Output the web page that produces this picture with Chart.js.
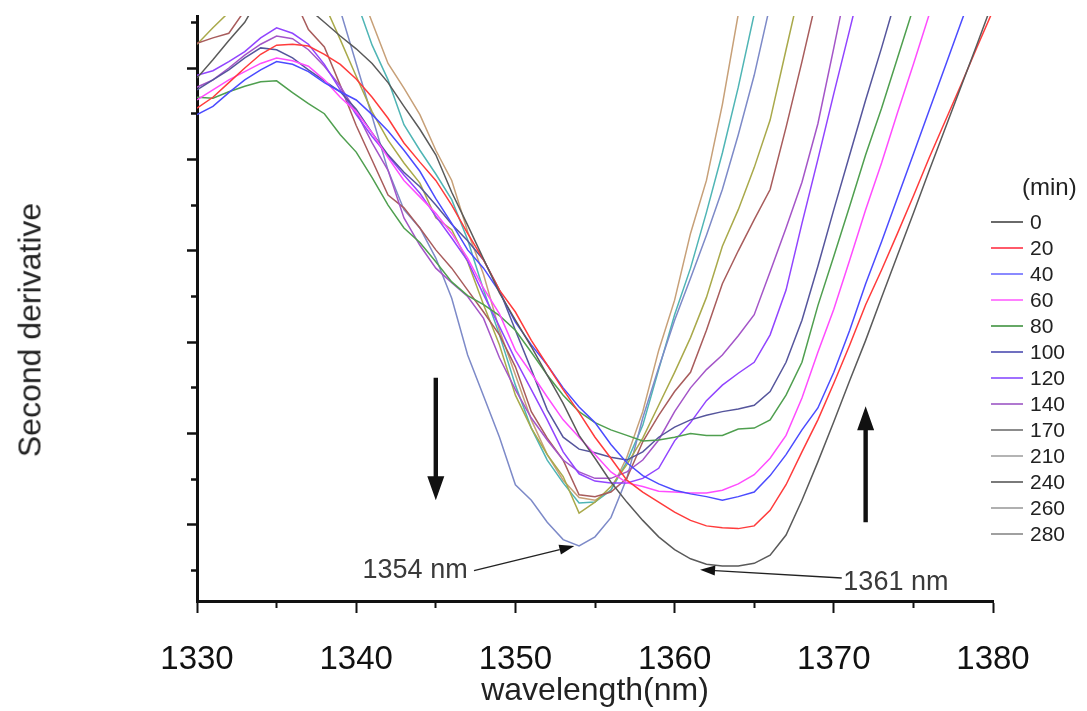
<!DOCTYPE html>
<html>
<head>
<meta charset="utf-8">
<script src="https://cdn.jsdelivr.net/npm/chart.js@4.4.1/dist/chart.umd.min.js"></script>
<style>
  html, body { margin: 0; padding: 0; background: #fff; }
  #wrap { position: relative; width: 1087px; height: 711px; }
  #legend { position: absolute; left: 991px; top: 209px; font-family: "Liberation Sans", sans-serif; font-size: 21px; color: #222; }
  #legend .unit { position: absolute; left: 31px; top: -35px; font-size: 24px; line-height: 26px; white-space: nowrap; }
  #legend .row { display: flex; align-items: center; height: 26px; }
  #legend .sw { display: inline-block; width: 32px; height: 2px; margin-right: 7px; }
  #ytitle { position: absolute; left: 30px; top: 330px; transform: translate(-50%, -50%) rotate(-90deg);
    font-family: "Liberation Sans", sans-serif; font-size: 32px; color: #222; white-space: nowrap; }
</style>
</head>
<body>
<div id="wrap">
  <canvas id="chart" width="1087" height="711"></canvas>
  <div id="ytitle">Second derivative</div>
  <div id="legend"></div>
</div>
<script>
// wavelength (nm)
const wavelengths = [1330, 1331, 1332, 1333, 1334, 1335, 1336, 1337, 1338, 1339,
  1340, 1341, 1342, 1343, 1344, 1345, 1346, 1347, 1348, 1349,
  1350, 1351, 1352, 1353, 1354, 1355, 1356, 1357, 1358, 1359,
  1360, 1361, 1362, 1363, 1364, 1365, 1366, 1367, 1368, 1369,
  1370, 1371, 1372, 1373, 1374, 1375, 1376, 1377, 1378, 1379, 1380];

// elapsed time (min)
const times = ["0", "20", "40", "60", "80", "100", "120", "140", "170", "210", "240", "260", "280"];

// second derivative (null = outside the plotted range)
const d0 = [-0.11, 0.09, 0.30, 0.50, 0.80, null, null, 0.65, 0.50, 0.35,
  0.21, 0.05, -0.16, -0.42, -0.67, -0.95, -1.36, -1.72, -2.09, -2.46,
  -2.76, -3.05, -3.36, -3.67, -4.02, -4.27, -4.53, -4.75, -4.95, -5.13,
  -5.27, -5.37, -5.43, -5.45, -5.45, -5.42, -5.33, -5.11, -4.73, -4.31,
  -3.87, -3.42, -2.98, -2.51, -2.05, -1.59, -1.12, -0.66, -0.20, 0.26, 0.73];
const d20 = [-0.44, -0.32, -0.16, 0.00, 0.15, 0.25, 0.26, 0.24, 0.15, 0.04,
  -0.12, -0.32, -0.55, -0.82, -1.03, -1.23, -1.50, -1.81, -2.10, -2.43,
  -2.67, -2.98, -3.25, -3.52, -3.77, -4.04, -4.27, -4.51, -4.64, -4.75,
  -4.86, -4.95, -5.01, -5.03, -5.04, -5.01, -4.84, -4.56, -4.20, -3.85,
  -3.45, -3.03, -2.59, -2.21, -1.81, -1.40, -0.98, -0.58, -0.18, 0.23, 0.63];
const d40 = [-0.51, -0.42, -0.27, -0.13, -0.02, 0.07, 0.04, -0.04, -0.16, -0.26,
  -0.35, -0.51, -0.69, -0.90, -1.13, -1.43, -1.70, -1.99, -2.19, -2.45,
  -2.78, -3.03, -3.25, -3.50, -3.71, -3.88, -4.12, -4.32, -4.46, -4.55,
  -4.62, -4.66, -4.69, -4.73, -4.69, -4.64, -4.46, -4.23, -3.96, -3.72,
  -3.33, -2.87, -2.36, -1.90, -1.42, -0.94, -0.46, 0.02, 0.50, 0.98, null];
const d60 = [-0.35, -0.24, -0.13, -0.04, 0.05, 0.11, 0.08, 0.02, -0.13, -0.32,
  -0.48, -0.71, -0.98, -1.23, -1.41, -1.59, -1.81, -2.08, -2.41, -2.69,
  -3.09, -3.34, -3.60, -3.85, -4.04, -4.23, -4.42, -4.54, -4.58, -4.63,
  -4.64, -4.65, -4.65, -4.62, -4.55, -4.45, -4.27, -4.02, -3.61, -3.11,
  -2.64, -2.10, -1.55, -1.04, -0.49, 0.04, 0.59, null, null, null, null];
const d80 = [-0.32, -0.33, -0.26, -0.20, -0.15, -0.14, -0.27, -0.39, -0.50, -0.73,
  -0.92, -1.20, -1.50, -1.75, -1.91, -2.12, -2.34, -2.49, -2.59, -2.71,
  -2.87, -3.11, -3.36, -3.58, -3.76, -3.88, -3.96, -4.02, -4.08, -4.07,
  -4.04, -4.00, -4.02, -4.02, -3.95, -3.94, -3.85, -3.58, -3.22, -2.60,
  -2.06, -1.51, -0.95, -0.44, 0.11, 0.66, null, null, null, null, null];
const d100 = [-0.24, -0.13, -0.02, 0.11, 0.22, 0.20, 0.11, -0.02, -0.14, -0.26,
  -0.45, -0.71, -0.95, -1.14, -1.30, -1.50, -1.71, -1.89, -2.10, -2.43,
  -2.87, -3.30, -3.74, -4.04, -4.17, -4.21, -4.26, -4.29, -4.20, -4.04,
  -3.93, -3.85, -3.80, -3.76, -3.73, -3.69, -3.54, -3.22, -2.76, -2.17,
  -1.55, -0.95, -0.35, 0.22, 0.82, null, null, null, null, null, null];
const d120 = [-0.08, -0.03, 0.07, 0.18, 0.33, 0.44, 0.38, 0.26, 0.04, -0.24,
  -0.51, -0.75, -0.96, -1.17, -1.37, -1.62, -1.86, -2.11, -2.48, -2.83,
  -3.19, -3.52, -3.85, -4.20, -4.44, -4.52, -4.54, -4.54, -4.49, -4.38,
  -4.08, -3.88, -3.64, -3.47, -3.34, -3.22, -2.92, -2.43, -1.70, -1.00,
  -0.28, 0.42, 1.13, null, null, null, null, null, null, null, null];
const d140 = [-0.21, -0.13, 0.00, 0.14, 0.26, 0.35, 0.32, 0.20, 0.02, -0.20,
  -0.48, -0.82, -1.12, -1.64, -1.94, -2.19, -2.35, -2.50, -2.74, -3.17,
  -3.52, -3.83, -4.07, -4.29, -4.42, -4.49, -4.49, -4.42, -4.29, -4.07,
  -3.76, -3.50, -3.30, -3.14, -2.93, -2.70, -2.23, -1.75, -1.25, -0.61,
  0.22, 1.07, null, null, null, null, null, null, null, null, null];
const d170 = [0.27, 0.33, 0.38, 0.63, null, null, 0.80, 0.42, 0.23, -0.19,
  -0.63, -1.01, -1.39, -1.53, -1.75, -1.99, -2.19, -2.43, -2.67, -2.92,
  -3.27, -3.76, -4.05, -4.29, -4.67, -4.69, -4.64, -4.49, -4.09, -3.80,
  -3.54, -3.33, -2.87, -2.36, -2.00, -1.66, -1.33, -0.65, 0.07, 0.82,
  null, null, null, null, null, null, null, null, null, null, null];
const d210 = [0.26, 0.44, 0.61, null, null, null, null, null, 0.70, 0.31,
  -0.09, -0.48, -0.79, -1.04, -1.26, -1.64, -1.77, -2.12, -2.59, -3.03,
  -3.58, -3.94, -4.23, -4.47, -4.87, -4.75, -4.58, -4.34, -4.05, -3.69,
  -3.33, -2.95, -2.51, -1.95, -1.55, -1.09, -0.57, 0.20, 0.96, null,
  null, null, null, null, null, null, null, null, null, null, null];
const d240 = [null, null, null, null, null, null, null, null, null, 0.63,
  0.05, -0.53, -1.12, -1.55, -1.75, -2.08, -2.52, -3.14, -3.59, -4.04,
  -4.56, -4.73, -4.97, -5.16, -5.23, -5.13, -4.92, -4.49, -3.83, -3.28,
  -2.76, -2.30, -1.83, -1.33, -0.73, -0.08, 0.69, null, null, null,
  null, null, null, null, null, null, null, null, null, null, null];
const d260 = [null, null, null, null, null, null, null, null, null, null,
  0.74, 0.25, -0.13, -0.62, -0.90, -1.16, -1.44, -1.88, -2.43, -2.92,
  -3.47, -3.94, -4.29, -4.54, -4.76, -4.75, -4.62, -4.31, -3.91, -3.30,
  -2.70, -2.19, -1.58, -0.93, -0.21, 0.59, null, null, null, null,
  null, null, null, null, null, null, null, null, null, null, null];
const d280 = [null, null, null, null, null, null, null, null, null, null,
  0.96, 0.50, 0.05, -0.22, -0.51, -0.90, -1.23, -1.79, -2.26, -2.87,
  -3.36, -3.85, -4.23, -4.51, -4.70, -4.73, -4.62, -4.26, -3.76, -3.09,
  -2.54, -1.81, -1.23, -0.40, 0.59, null, null, null, null, null,
  null, null, null, null, null, null, null, null, null, null, null];

const seriesValues = [d0, d20, d40, d60, d80, d100, d120, d140, d170, d210, d240, d260, d280];

// axis ticks
const xMajorTicks = [1330, 1340, 1350, 1360, 1370, 1380];
const xMinorTicks = [1335, 1345, 1355, 1365, 1375];
const yMajorTicks = [-5, -4, -3, -2, -1, 0];
const yMinorTicks = [-5.5, -4.5, -3.5, -2.5, -1.5, -0.5, 0.5];

// colours
const lineColors = ["#5a5a5a", "#ff3b3b", "#4b4bff", "#ff4cff", "#4f9f4f", "#55559c", "#9144ff", "#a455c8",
  "#a85c5c", "#a9a94a", "#7d8ac8", "#4fb5b5", "#c7a078"];
const legendColors = ["#6a6a6a", "#ff5a6a", "#8a8aff", "#ff80ff", "#66a866", "#7070c0", "#a070ff", "#b078d0",
  "#8c8c8c", "#b4b4b4", "#7a7a7a", "#b0b0b0", "#a0a0a0"];

// annotations (data coordinates)
const downArrow = { x: 1345, from: -3.39, to: -4.73 };
const upArrow = { x: 1372, from: -4.97, to: -3.70 };
const notes = [
  { text: "1354 nm", tx: 1340.4, ty: -5.50, ax0: 1347.4, ay0: -5.50, ax1: 1353.7, ay1: -5.23 },
  { text: "1361 nm", tx: 1370.6, ty: -5.63, ax0: 1370.5, ay0: -5.58, ax1: 1361.6, ay1: -5.49 }
];

const fam = "'Liberation Sans', sans-serif";

const annotate = {
  id: "annotate",
  afterDatasetsDraw(chart) {
    const { ctx, scales: { x, y } } = chart;
    ctx.save();
    ctx.fillStyle = "#111";
    [downArrow, upArrow].forEach(a => {
      const px = x.getPixelForValue(a.x);
      const y0 = y.getPixelForValue(a.from);
      const y1 = y.getPixelForValue(a.to);
      const dir = Math.sign(y1 - y0);
      const yb = y1 - dir * 24;
      ctx.beginPath();
      ctx.moveTo(px - 2.2, y0);
      ctx.lineTo(px + 2.2, y0);
      ctx.lineTo(px + 2.2, yb);
      ctx.lineTo(px + 8.5, yb);
      ctx.lineTo(px, y1);
      ctx.lineTo(px - 8.5, yb);
      ctx.lineTo(px - 2.2, yb);
      ctx.closePath();
      ctx.fill();
    });
    notes.forEach(n => {
      const x0 = x.getPixelForValue(n.ax0), y0 = y.getPixelForValue(n.ay0);
      const x1 = x.getPixelForValue(n.ax1), y1 = y.getPixelForValue(n.ay1);
      const ang = Math.atan2(y1 - y0, x1 - x0);
      const hl = 15, hw = 5;
      const bx = x1 - hl * Math.cos(ang), by = y1 - hl * Math.sin(ang);
      ctx.strokeStyle = "#222";
      ctx.lineWidth = 1.4;
      ctx.beginPath();
      ctx.moveTo(x0, y0);
      ctx.lineTo(bx, by);
      ctx.stroke();
      ctx.fillStyle = "#111";
      ctx.beginPath();
      ctx.moveTo(x1, y1);
      ctx.lineTo(bx + hw * Math.sin(ang), by - hw * Math.cos(ang));
      ctx.lineTo(bx - hw * Math.sin(ang), by + hw * Math.cos(ang));
      ctx.closePath();
      ctx.fill();
      ctx.fillStyle = "#3a3a3a";
      ctx.font = "27px " + fam;
      ctx.textBaseline = "middle";
      ctx.textAlign = "left";
      ctx.fillText(n.text, x.getPixelForValue(n.tx), y.getPixelForValue(n.ty));
    });
    ctx.restore();
  }
};

const datasets = seriesValues.map((vals, i) => ({
  label: times[i],
  data: wavelengths.map((w, k) => ({ x: w, y: vals[k] })),
  borderColor: lineColors[i],
  backgroundColor: lineColors[i],
  borderWidth: 1.5,
  pointRadius: 0,
  tension: 0,
  fill: false
}));

new Chart(document.getElementById("chart"), {
  type: "line",
  data: { datasets },
  options: {
    responsive: false,
    animation: false,
    layout: { padding: { top: 16, right: 94, left: 0, bottom: 0 } },
    plugins: { legend: { display: false }, tooltip: { enabled: false } },
    scales: {
      x: {
        type: "linear", position: "bottom", min: 1330, max: 1380, weight: 1,
        afterBuildTicks: a => { a.ticks = xMajorTicks.map(v => ({ value: v })); },
        afterFit: a => { a.height = 110; },
        grid: { drawOnChartArea: false, tickLength: 12, tickWidth: 2, tickColor: "#111" },
        border: { display: true, width: 3, color: "#111" },
        ticks: { color: "#111", font: { family: fam, size: 33 }, padding: 27, maxRotation: 0, autoSkip: false,
          callback: v => String(v) },
        title: { display: true, text: "wavelength(nm)", color: "#222", font: { family: fam, size: 32 }, padding: { top: 0, bottom: 1 } }
      },
      xMinor: {
        type: "linear", position: "bottom", min: 1330, max: 1380, weight: 0,
        afterBuildTicks: a => { a.ticks = xMinorTicks.map(v => ({ value: v })); },
        afterFit: a => { a.height = 0; },
        grid: { drawOnChartArea: false, tickLength: 7, tickWidth: 2, tickColor: "#111" },
        border: { display: false },
        ticks: { display: false }
      },
      y: {
        type: "linear", position: "left", min: -5.832, max: 0.569, weight: 1,
        afterBuildTicks: a => { a.ticks = yMajorTicks.map(v => ({ value: v })); },
        afterFit: a => { a.width = 197; },
        grid: { drawOnChartArea: false, tickLength: 10, tickWidth: 2.5, tickColor: "#111" },
        border: { display: true, width: 3, color: "#111" },
        ticks: { display: false }
      },
      yMinor: {
        type: "linear", position: "left", min: -5.832, max: 0.569, weight: 0,
        afterBuildTicks: a => { a.ticks = yMinorTicks.map(v => ({ value: v })); },
        afterFit: a => { a.width = 0; },
        grid: { drawOnChartArea: false, tickLength: 6, tickWidth: 2.5, tickColor: "#111" },
        border: { display: false },
        ticks: { display: false }
      }
    }
  },
  plugins: [annotate]
});

// legend
const legend = document.getElementById("legend");
legend.innerHTML = '<div class="unit">(min)</div>' + times.map((t, i) =>
  `<div class="row"><span class="sw" style="background:${legendColors[i]}"></span><span>${t}</span></div>`).join("");
</script>
</body>
</html>
